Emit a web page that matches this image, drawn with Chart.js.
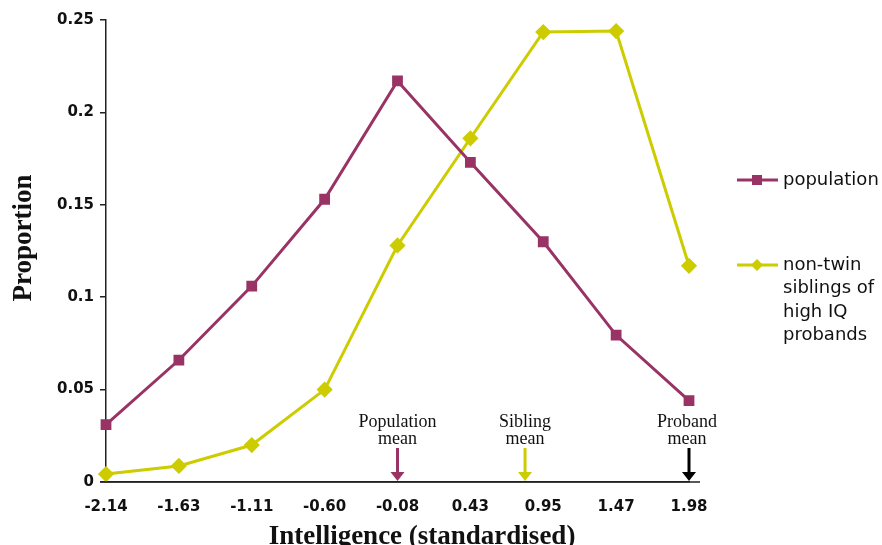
<!DOCTYPE html>
<html>
<head>
<meta charset="utf-8">
<script src="https://cdn.jsdelivr.net/npm/chart.js@4/dist/chart.umd.min.js"></script>
<style>
  html, body { margin: 0; padding: 0; background: #fff; }
  #wrap { width: 882px; height: 545px; position: relative; }
</style>
</head>
<body>
<div id="wrap"><canvas id="iqChart"></canvas></div>
<script>
/* --- Dati --- */
const categories = ['-2.14', '-1.63', '-1.11', '-0.60', '-0.08', '0.43', '0.95', '1.47', '1.98'];
const populationValues = [0.031, 0.066, 0.106, 0.153, 0.217, 0.173, 0.130, 0.0795, 0.044];
const siblingValues = [0.0043, 0.0087, 0.020, 0.050, 0.128, 0.186, 0.2435, 0.244, 0.117];
const yTickLabels = ['0', '0.05', '0.1', '0.15', '0.2', '0.25'];
const seriesNames = ['population', ['non-twin', 'siblings of', 'high IQ', 'probands']];
const meanLabels = [['Population', 'mean'], ['Sibling', 'mean'], ['Proband', 'mean']];
const meanValues = [-0.08, 0.82, 1.98];

const POP_COLOR = '#993366';
const SIB_COLOR = '#cccc00';
const MEAN_COLORS = [POP_COLOR, SIB_COLOR, '#000000'];
const SERIF = '"Liberation Serif", "DejaVu Serif", serif';
const SANS = '"DejaVu Sans", sans-serif';

/* value -> pixel, interpolating between category ticks */
function valueToPixel(xScale, v) {
    const nums = categories.map(Number);
    for (let i = 0; i < nums.length - 1; i++) {
        if (v >= nums[i] && v <= nums[i + 1]) {
            const f = (v - nums[i]) / (nums[i + 1] - nums[i]);
            return xScale.getPixelForValue(i + f);
        }
    }
    return xScale.getPixelForValue(v < nums[0] ? 0 : nums.length - 1);
}

/* --- Plugin: titoli assi, frecce medie, legenda --- */
const decorPlugin = {
    id: 'decor',
    afterDraw(chart) {
        const { ctx, chartArea, scales } = chart;
        const x = scales.x, y = scales.y;
        ctx.save();

        // axis line extensions
        ctx.strokeStyle = '#222';
        ctx.lineWidth = 1.5;
        ctx.beginPath();
        ctx.moveTo(chartArea.left - 6, chartArea.bottom);
        ctx.lineTo(chartArea.right + 11, chartArea.bottom);
        ctx.stroke();

        // axis titles
        ctx.fillStyle = '#111';
        ctx.font = 'bold 27px ' + SERIF;
        ctx.textAlign = 'center';
        ctx.textBaseline = 'middle';
        ctx.fillText('Intelligence (standardised)', 422, 537);
        ctx.save();
        ctx.translate(24, 238);
        ctx.rotate(-Math.PI / 2);
        ctx.fillText('Proportion', 0, 0);
        ctx.restore();

        // mean arrows
        const base = y.getPixelForValue(0);
        meanValues.forEach((v, i) => {
            const px = valueToPixel(x, v);
            const col = MEAN_COLORS[i];
            ctx.strokeStyle = col;
            ctx.fillStyle = col;
            ctx.lineWidth = 3;
            ctx.beginPath();
            ctx.moveTo(px, base - 34);
            ctx.lineTo(px, base - 9);
            ctx.stroke();
            ctx.beginPath();
            ctx.moveTo(px - 7, base - 10);
            ctx.lineTo(px + 7, base - 10);
            ctx.lineTo(px, base - 1);
            ctx.closePath();
            ctx.fill();

            ctx.fillStyle = '#111';
            ctx.font = '18px ' + SERIF;
            const lx = i === 2 ? px - 2 : px;
            ctx.fillText(meanLabels[i][0], lx, base - 60);
            ctx.fillText(meanLabels[i][1], lx, base - 43);
        });

        // legend
        const lgX = 737, lgItems = [180, 265];
        chart.data.datasets.forEach((ds, i) => {
            const ly = lgItems[i];
            ctx.strokeStyle = ds.borderColor;
            ctx.lineWidth = 3;
            ctx.beginPath();
            ctx.moveTo(lgX, ly);
            ctx.lineTo(lgX + 41, ly);
            ctx.stroke();
            ctx.fillStyle = ds.borderColor;
            const mx = lgX + 20;
            if (ds.pointStyle === 'rect') {
                ctx.fillRect(mx - 5, ly - 5, 10, 10);
            } else {
                ctx.beginPath();
                ctx.moveTo(mx, ly - 6);
                ctx.lineTo(mx + 6, ly);
                ctx.lineTo(mx, ly + 6);
                ctx.lineTo(mx - 6, ly);
                ctx.closePath();
                ctx.fill();
            }
            ctx.fillStyle = '#111';
            ctx.font = '18px ' + SANS;
            ctx.textAlign = 'left';
            const lines = Array.isArray(seriesNames[i]) ? seriesNames[i] : [seriesNames[i]];
            lines.forEach((t, k) => ctx.fillText(t, lgX + 46, ly + k * 23.5));
            ctx.textAlign = 'center';
        });

        ctx.restore();
    }
};

/* --- Grafico --- */
const ctx = document.getElementById('iqChart').getContext('2d');
new Chart(ctx, {
    type: 'line',
    data: {
        labels: categories,
        datasets: [{
            label: 'population',
            data: populationValues,
            borderColor: POP_COLOR,
            backgroundColor: POP_COLOR,
            borderWidth: 3,
            pointStyle: 'rect',
            pointRadius: 5.5,
            tension: 0,
            clip: false
        }, {
            label: 'non-twin siblings of high IQ probands',
            data: siblingValues,
            borderColor: SIB_COLOR,
            backgroundColor: SIB_COLOR,
            borderWidth: 3,
            pointStyle: 'rectRot',
            pointRadius: 6,
            tension: 0,
            clip: false
        }]
    },
    options: {
        responsive: true,
        maintainAspectRatio: false,
        animation: false,
        layout: { padding: { top: 20, right: 193, left: 0, bottom: 0 } },
        plugins: { legend: { display: false }, tooltip: { enabled: false } },
        scales: {
            x: {
                offset: false,
                afterFit: s => { s.height = 63; },
                grid: { display: false },
                border: { display: true, color: '#222', width: 1.5 },
                ticks: {
                    padding: 8,
                    color: '#111',
                    maxRotation: 0,
                    autoSkip: false,
                    font: { family: SANS, size: 15, weight: 'bold' }
                }
            },
            y: {
                min: 0,
                max: 0.25,
                afterFit: s => { s.width = 106; },
                grid: { drawOnChartArea: false, tickLength: 6, color: '#222', lineWidth: 1.5 },
                border: { display: true, color: '#222', width: 1.5 },
                ticks: {
                    stepSize: 0.05,
                    padding: 6,
                    color: '#111',
                    font: { family: SANS, size: 15, weight: 'bold' },
                    callback: (val, idx) => yTickLabels[idx]
                }
            }
        }
    },
    plugins: [decorPlugin]
});
</script>
</body>
</html>
